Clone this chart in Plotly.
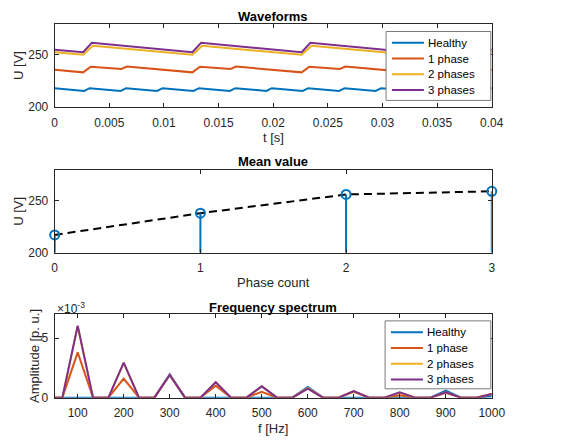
import plotly.graph_objects as go

# ---------------- data ----------------
series_names = ["Healthy", "1 phase", "2 phases", "3 phases"]
series_colors = ["#0072BD", "#D95319", "#EDB120", "#7E2F8E"]

# Waveforms: vertices of the rectified DC-link voltage, time [s] / voltage [V]
t_healthy = [0.0, 0.00270, 0.00320, 0.00603, 0.00653, 0.00937, 0.00987, 0.01270, 0.01320,
             0.01603, 0.01653, 0.01937, 0.01987, 0.02270, 0.02320, 0.02603, 0.02653,
             0.02937, 0.02987, 0.03270, 0.03320, 0.03603, 0.03653, 0.03937, 0.03987, 0.04]
u_healthy = [218.2, 215.6, 218.3, 215.6, 218.3, 215.6, 218.3, 215.6, 218.3,
             215.6, 218.3, 215.6, 218.3, 215.6, 218.3, 215.6, 218.3,
             215.6, 218.3, 215.6, 218.3, 215.6, 218.3, 215.6, 218.3, 218.2]

t_1phase = [0.0, 0.0026, 0.0033, 0.0061, 0.0066, 0.0126, 0.0133, 0.0161, 0.0166,
            0.0226, 0.0233, 0.0261, 0.0266, 0.0326, 0.0333, 0.0361, 0.0366, 0.04]
u_1phase = [235.8, 233.4, 238.8, 236.6, 238.9, 233.4, 238.8, 236.6, 238.9,
            233.4, 238.8, 236.6, 238.9, 233.4, 238.8, 236.6, 238.9, 235.8]

t_2phases = [0.0, 0.0026, 0.0035, 0.0126, 0.0135, 0.0226, 0.0235, 0.0326, 0.0335, 0.04]
u_2phases = [252.7, 250.2, 258.8, 250.2, 258.8, 250.2, 258.8, 250.2, 258.8, 252.7]

t_3phases = [0.0, 0.0026, 0.0034, 0.0126, 0.0134, 0.0226, 0.0234, 0.0326, 0.0334, 0.04]
u_3phases = [255.1, 252.6, 261.6, 252.6, 261.6, 252.6, 261.6, 252.6, 261.6, 255.1]

# Mean value versus number of faulty phases
phase_count = [0, 1, 2, 3]
mean_u = [217.2, 238.2, 256.3, 259.4]

# Frequency spectrum (bin spacing 33.3 Hz), amplitude in p.u.
freq_hz = [33.3, 66.7, 100, 133.3, 166.7, 200, 233.3, 266.7, 300, 333.3, 366.7, 400,
           433.3, 466.7, 500, 533.3, 566.7, 600, 633.3, 666.7, 700, 733.3, 766.7, 800,
           833.3, 866.7, 900, 933.3, 966.7, 1000]
amp_healthy = [0, 0, 0, 0, 0, 0, 0, 0, 0.00195, 0, 0, 0,
               0, 0, 0, 0, 0, 0.00090, 0, 0, 0, 0, 0, 0,
               0, 0, 0.00060, 0, 0, 0.00012]
amp_1phase = [0, 0, 0.00380, 0, 0, 0.00160, 0, 0, 0.00190, 0, 0, 0.00100,
              0, 0, 0.00050, 0, 0, 0.00080, 0, 0, 0.00050, 0, 0, 0.00020,
              0, 0, 0.00040, 0, 0, 0.00030]
amp_2phases = [0, 0, 0.00600, 0, 0, 0.00290, 0, 0, 0.00190, 0, 0, 0.00130,
               0, 0, 0.00095, 0, 0, 0.00080, 0, 0, 0.00055, 0, 0, 0.00040,
               0, 0, 0.00045, 0, 0, 0.00030]
amp_3phases = [0, 0, 0.00605, 0, 0, 0.00295, 0, 0, 0.00190, 0, 0, 0.00130,
               0, 0, 0.00095, 0, 0, 0.00075, 0, 0, 0.00055, 0, 0, 0.00045,
               0, 0, 0.00045, 0, 0, 0.00030]

time_ticks = [0, 0.005, 0.01, 0.015, 0.02, 0.025, 0.03, 0.035, 0.04]
volt_ticks = [200, 250]
phase_ticks = [0, 1, 2, 3]
freq_ticks = [100, 200, 300, 400, 500, 600, 700, 800, 900, 1000]
amp_ticks = [0, 0.005]
amp_tick_text = ["0", "5"]

# ---------------- figure ----------------
W, H = 563, 446
FONT = "Liberation Sans, Arial, Helvetica, sans-serif"
AX = "#262626"

wave_t = [t_healthy, t_1phase, t_2phases, t_3phases]
wave_u = [u_healthy, u_1phase, u_2phases, u_3phases]
spec_a = [amp_healthy, amp_1phase, amp_2phases, amp_3phases]

fig = go.Figure()

for name, color, t, u in zip(series_names, series_colors, wave_t, wave_u):
    fig.add_trace(go.Scatter(x=t, y=u, mode="lines", name=name,
                             line=dict(color=color, width=2),
                             xaxis="x", yaxis="y", showlegend=False))

# Mean value: dashed trend plus stems from the axis base
fig.add_trace(go.Scatter(x=phase_count, y=mean_u, mode="lines",
                         line=dict(color="black", width=2, dash="8px,5px"),
                         xaxis="x2", yaxis="y2", showlegend=False))
stem_base = volt_ticks[0]
fig.add_trace(go.Scatter(x=phase_count, y=mean_u, mode="markers",
                         marker=dict(symbol="circle-open", size=9, color=series_colors[0],
                                     line=dict(width=2, color=series_colors[0])),
                         error_y=dict(type="data", symmetric=False, array=[0] * len(mean_u),
                                      arrayminus=[v - stem_base for v in mean_u],
                                      color=series_colors[0], thickness=2, width=0),
                         cliponaxis=False,
                         xaxis="x2", yaxis="y2", showlegend=False))

for name, color, a in zip(series_names, series_colors, spec_a):
    fig.add_trace(go.Scatter(x=freq_hz, y=a, mode="lines", name=name,
                             line=dict(color=color, width=2),
                             xaxis="x3", yaxis="y3", showlegend=False))


def px_x(p):
    return p / W


def px_y(p):
    return 1 - p / H


x_dom = [px_x(53.3), px_x(504)]
dom_top = [px_y(109), px_y(24)]
dom_mid = [px_y(256.7), px_y(172.7)]
dom_bot = [px_y(404), px_y(319.3)]

axis_common = dict(showline=True, linecolor=AX, linewidth=1, mirror="allticks",
                   ticks="inside", ticklen=4, tickcolor=AX, tickwidth=1,
                   showgrid=False, zeroline=False,
                   tickfont=dict(family=FONT, size=12, color=AX))

fig.update_layout(
    width=W, height=H, margin=dict(l=0, r=0, t=0, b=0),
    paper_bgcolor="white", plot_bgcolor="white",
    font=dict(family=FONT, color=AX),
    showlegend=False,
    xaxis=dict(domain=x_dom, range=[0, 0.04], tickvals=time_ticks, anchor="y",
               ticklabelstandoff=4, **axis_common),
    yaxis=dict(domain=dom_top, range=[200, 280], tickvals=volt_ticks, anchor="x",
               ticklabelstandoff=3, **axis_common),
    xaxis2=dict(domain=x_dom, range=[0, 3], tickvals=phase_ticks, anchor="y2",
                ticklabelstandoff=4, **axis_common),
    yaxis2=dict(domain=dom_mid, range=[200, 280], tickvals=volt_ticks, anchor="x2",
                ticklabelstandoff=3, **axis_common),
    xaxis3=dict(domain=x_dom, range=[50, 1000], tickvals=freq_ticks, anchor="y3",
                ticklabelstandoff=4, **axis_common),
    yaxis3=dict(domain=dom_bot, range=[0, 0.007], tickvals=amp_ticks, ticktext=amp_tick_text,
                anchor="x3", ticklabelstandoff=3, **axis_common),
)

ann = []
shapes = []
# panel titles
for text, y in [("Waveforms", 16.5), ("Mean value", 164), ("Frequency spectrum", 312)]:
    ann.append(dict(text="<b>%s</b>" % text, x=(x_dom[0] + x_dom[1]) / 2, y=px_y(y),
                    xref="paper", yref="paper", showarrow=False,
                    font=dict(family=FONT, size=13, color="black"),
                    xanchor="center", yanchor="middle"))
# x axis labels
for text, y in [("t [s]", 140), ("Phase count", 287), ("f [Hz]", 435.5)]:
    ann.append(dict(text=text, x=(x_dom[0] + x_dom[1]) / 2, y=px_y(y),
                    xref="paper", yref="paper", showarrow=False,
                    font=dict(family=FONT, size=13, color=AX),
                    xanchor="center", yanchor="middle"))
# y axis labels
for text, x, y in [("U [V]", 16, 66.5), ("U [V]", 16, 214.7), ("Amplitude [p. u.]", 33, 361.6)]:
    ann.append(dict(text=text, x=px_x(x), y=px_y(y), textangle=-90,
                    xref="paper", yref="paper", showarrow=False,
                    font=dict(family=FONT, size=13, color=AX),
                    xanchor="center", yanchor="middle"))
# exponent of the amplitude axis
ann.append(dict(text="\u00d710<sup>-3</sup>", x=px_x(54), y=px_y(313),
                xref="paper", yref="paper", showarrow=False,
                font=dict(family=FONT, size=12, color=AX),
                xanchor="left", yanchor="middle"))


# legend boxes (compact MATLAB-style entries)
def add_legend(left, top, right, bottom, first_y, step):
    shapes.append(dict(type="rect", xref="paper", yref="paper",
                       x0=px_x(left), x1=px_x(right), y0=px_y(bottom), y1=px_y(top),
                       line=dict(color="#7a7a7a", width=1), fillcolor="white", layer="above"))
    for i, (name, color) in enumerate(zip(series_names, series_colors)):
        yy = first_y + i * step
        shapes.append(dict(type="line", xref="paper", yref="paper",
                           x0=px_x(left + 6), x1=px_x(left + 39), y0=px_y(yy), y1=px_y(yy),
                           line=dict(color=color, width=2), layer="above"))
        ann.append(dict(text=name, x=px_x(left + 41), y=px_y(yy), xref="paper", yref="paper",
                        showarrow=False, xanchor="left", yanchor="middle",
                        font=dict(family=FONT, size=11.5, color="black")))


add_legend(395, 32, 503, 102, 43.5, 16)
add_legend(394, 326, 503, 395, 337.5, 16)

fig.update_layout(annotations=ann, shapes=shapes)

fig.write_html("out.html")
